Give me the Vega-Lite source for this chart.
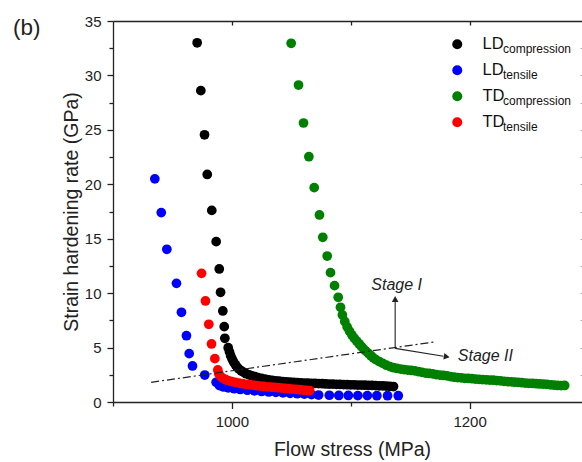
{
  "$schema": "https://vega.github.io/schema/vega-lite/v6.json",
  "width": 469,
  "height": 381,
  "autosize": {"type": "none"},
  "padding": {"left": 113, "top": 21, "right": 0, "bottom": 60},
  "background": "white",
  "title": {"text": "(b)", "anchor": "start", "frame": "group", "orient": "top", "dx": -100, "dy": 47, "baseline": "alphabetic", "fontSize": 22.5, "font": "Liberation Sans", "fontWeight": "normal", "color": "#222", "offset": 4},
  "config": {"view": {"stroke": null}, "font": "Liberation Sans"},
  "datasets": {
    "pts": [
      {"s": "LD compression", "x": 970.8, "y": 33.0},
      {"s": "LD compression", "x": 973.9, "y": 28.6},
      {"s": "LD compression", "x": 977.0, "y": 24.55},
      {"s": "LD compression", "x": 979.3, "y": 20.9},
      {"s": "LD compression", "x": 983.1, "y": 17.6},
      {"s": "LD compression", "x": 986.8, "y": 14.73},
      {"s": "LD compression", "x": 989.4, "y": 12.22},
      {"s": "LD compression", "x": 990.5, "y": 10.08},
      {"s": "LD compression", "x": 992.4, "y": 8.36},
      {"s": "LD compression", "x": 993.6, "y": 6.92},
      {"s": "LD compression", "x": 994.1, "y": 5.85},
      {"s": "LD compression", "x": 996.9, "y": 4.99},
      {"s": "LD compression", "x": 998, "y": 4.6},
      {"s": "LD compression", "x": 999, "y": 4.25},
      {"s": "LD compression", "x": 1000.2, "y": 3.95},
      {"s": "LD compression", "x": 1001.5, "y": 3.68},
      {"s": "LD compression", "x": 1003, "y": 3.42},
      {"s": "LD compression", "x": 1004.5, "y": 3.2},
      {"s": "LD compression", "x": 1006, "y": 3.02},
      {"s": "LD compression", "x": 1008, "y": 2.85},
      {"s": "LD compression", "x": 1010, "y": 2.72},
      {"s": "LD compression", "x": 1012, "y": 2.6},
      {"s": "LD compression", "x": 1014.5, "y": 2.5},
      {"s": "LD compression", "x": 1017, "y": 2.4},
      {"s": "LD compression", "x": 1019.5, "y": 2.32},
      {"s": "LD compression", "x": 1022, "y": 2.24},
      {"s": "LD compression", "x": 1025, "y": 2.17},
      {"s": "LD compression", "x": 1028, "y": 2.1},
      {"s": "LD compression", "x": 1031, "y": 2.04},
      {"s": "LD compression", "x": 1034, "y": 1.99},
      {"s": "LD compression", "x": 1037, "y": 1.95},
      {"s": "LD compression", "x": 1040, "y": 1.91},
      {"s": "LD compression", "x": 1043, "y": 1.88},
      {"s": "LD compression", "x": 1046, "y": 1.85},
      {"s": "LD compression", "x": 1049, "y": 1.82},
      {"s": "LD compression", "x": 1052, "y": 1.8},
      {"s": "LD compression", "x": 1055, "y": 1.78},
      {"s": "LD compression", "x": 1058, "y": 1.76},
      {"s": "LD compression", "x": 1061, "y": 1.74},
      {"s": "LD compression", "x": 1064, "y": 1.73},
      {"s": "LD compression", "x": 1067, "y": 1.71},
      {"s": "LD compression", "x": 1070, "y": 1.7},
      {"s": "LD compression", "x": 1073, "y": 1.69},
      {"s": "LD compression", "x": 1076, "y": 1.68},
      {"s": "LD compression", "x": 1079, "y": 1.66},
      {"s": "LD compression", "x": 1082, "y": 1.65},
      {"s": "LD compression", "x": 1085, "y": 1.64},
      {"s": "LD compression", "x": 1088, "y": 1.63},
      {"s": "LD compression", "x": 1091, "y": 1.62},
      {"s": "LD compression", "x": 1094, "y": 1.6},
      {"s": "LD compression", "x": 1097, "y": 1.59},
      {"s": "LD compression", "x": 1100, "y": 1.58},
      {"s": "LD compression", "x": 1103, "y": 1.57},
      {"s": "LD compression", "x": 1106, "y": 1.56},
      {"s": "LD compression", "x": 1109, "y": 1.55},
      {"s": "LD compression", "x": 1112, "y": 1.54},
      {"s": "LD compression", "x": 1115, "y": 1.53},
      {"s": "LD compression", "x": 1118, "y": 1.52},
      {"s": "LD compression", "x": 1121, "y": 1.51},
      {"s": "LD compression", "x": 1124, "y": 1.49},
      {"s": "LD compression", "x": 1127, "y": 1.48},
      {"s": "LD compression", "x": 1130, "y": 1.46},
      {"s": "LD compression", "x": 1133, "y": 1.44},
      {"s": "LD compression", "x": 1136, "y": 1.42},
      {"s": "LD tensile", "x": 935.2, "y": 20.5},
      {"s": "LD tensile", "x": 940.6, "y": 17.4},
      {"s": "LD tensile", "x": 945.3, "y": 14.03},
      {"s": "LD tensile", "x": 953.4, "y": 10.9},
      {"s": "LD tensile", "x": 957.6, "y": 8.24},
      {"s": "LD tensile", "x": 961.8, "y": 6.09},
      {"s": "LD tensile", "x": 964.1, "y": 4.44},
      {"s": "LD tensile", "x": 966.9, "y": 3.31},
      {"s": "LD tensile", "x": 977.2, "y": 2.48},
      {"s": "LD tensile", "x": 986.8, "y": 1.81},
      {"s": "LD tensile", "x": 989.6, "y": 1.5},
      {"s": "LD tensile", "x": 993, "y": 1.38},
      {"s": "LD tensile", "x": 997, "y": 1.3},
      {"s": "LD tensile", "x": 1002, "y": 1.22},
      {"s": "LD tensile", "x": 1007, "y": 1.15},
      {"s": "LD tensile", "x": 1013, "y": 1.08},
      {"s": "LD tensile", "x": 1019, "y": 1.02},
      {"s": "LD tensile", "x": 1025, "y": 0.97},
      {"s": "LD tensile", "x": 1031, "y": 0.92},
      {"s": "LD tensile", "x": 1037, "y": 0.88},
      {"s": "LD tensile", "x": 1043, "y": 0.84},
      {"s": "LD tensile", "x": 1049, "y": 0.8},
      {"s": "LD tensile", "x": 1055, "y": 0.76},
      {"s": "LD tensile", "x": 1061, "y": 0.72},
      {"s": "LD tensile", "x": 1067, "y": 0.68},
      {"s": "LD tensile", "x": 1073, "y": 0.64},
      {"s": "LD tensile", "x": 1082, "y": 0.62},
      {"s": "LD tensile", "x": 1090, "y": 0.6},
      {"s": "LD tensile", "x": 1098, "y": 0.6},
      {"s": "LD tensile", "x": 1106, "y": 0.59},
      {"s": "LD tensile", "x": 1114, "y": 0.59},
      {"s": "LD tensile", "x": 1122, "y": 0.58},
      {"s": "LD tensile", "x": 1131, "y": 0.58},
      {"s": "LD tensile", "x": 1140, "y": 0.58},
      {"s": "TD compression", "x": 1049.9, "y": 32.95},
      {"s": "TD compression", "x": 1056.1, "y": 29.12},
      {"s": "TD compression", "x": 1060.3, "y": 25.63},
      {"s": "TD compression", "x": 1064.8, "y": 22.53},
      {"s": "TD compression", "x": 1069.3, "y": 19.69},
      {"s": "TD compression", "x": 1073.7, "y": 17.18},
      {"s": "TD compression", "x": 1076.5, "y": 15.13},
      {"s": "TD compression", "x": 1080.2, "y": 13.41},
      {"s": "TD compression", "x": 1083.0, "y": 11.88},
      {"s": "TD compression", "x": 1086.4, "y": 10.69},
      {"s": "TD compression", "x": 1089.5, "y": 9.62},
      {"s": "TD compression", "x": 1091.4, "y": 8.7},
      {"s": "TD compression", "x": 1093, "y": 8.0},
      {"s": "TD compression", "x": 1095, "y": 7.4},
      {"s": "TD compression", "x": 1097, "y": 6.9},
      {"s": "TD compression", "x": 1099, "y": 6.5},
      {"s": "TD compression", "x": 1101, "y": 6.15},
      {"s": "TD compression", "x": 1103, "y": 5.85},
      {"s": "TD compression", "x": 1105, "y": 5.6},
      {"s": "TD compression", "x": 1107, "y": 5.35},
      {"s": "TD compression", "x": 1109, "y": 5.1},
      {"s": "TD compression", "x": 1111, "y": 4.85},
      {"s": "TD compression", "x": 1113, "y": 4.65},
      {"s": "TD compression", "x": 1115, "y": 4.45},
      {"s": "TD compression", "x": 1117, "y": 4.25},
      {"s": "TD compression", "x": 1119, "y": 4.05},
      {"s": "TD compression", "x": 1121, "y": 3.9},
      {"s": "TD compression", "x": 1124, "y": 3.72},
      {"s": "TD compression", "x": 1127, "y": 3.55},
      {"s": "TD compression", "x": 1130, "y": 3.38},
      {"s": "TD compression", "x": 1133, "y": 3.25},
      {"s": "TD compression", "x": 1136, "y": 3.15},
      {"s": "TD compression", "x": 1139, "y": 3.08},
      {"s": "TD compression", "x": 1142, "y": 3.02},
      {"s": "TD compression", "x": 1145, "y": 2.97},
      {"s": "TD compression", "x": 1148, "y": 2.93},
      {"s": "TD compression", "x": 1151, "y": 2.9},
      {"s": "TD compression", "x": 1154, "y": 2.86},
      {"s": "TD compression", "x": 1157, "y": 2.8},
      {"s": "TD compression", "x": 1160, "y": 2.72},
      {"s": "TD compression", "x": 1163, "y": 2.66},
      {"s": "TD compression", "x": 1166, "y": 2.62},
      {"s": "TD compression", "x": 1169, "y": 2.58},
      {"s": "TD compression", "x": 1172, "y": 2.52},
      {"s": "TD compression", "x": 1175, "y": 2.48},
      {"s": "TD compression", "x": 1178, "y": 2.44},
      {"s": "TD compression", "x": 1181, "y": 2.4},
      {"s": "TD compression", "x": 1184, "y": 2.33},
      {"s": "TD compression", "x": 1187, "y": 2.28},
      {"s": "TD compression", "x": 1190, "y": 2.25},
      {"s": "TD compression", "x": 1193, "y": 2.22},
      {"s": "TD compression", "x": 1196, "y": 2.18},
      {"s": "TD compression", "x": 1199, "y": 2.16},
      {"s": "TD compression", "x": 1202, "y": 2.14},
      {"s": "TD compression", "x": 1205, "y": 2.1},
      {"s": "TD compression", "x": 1208, "y": 2.08},
      {"s": "TD compression", "x": 1211, "y": 2.06},
      {"s": "TD compression", "x": 1214, "y": 2.04},
      {"s": "TD compression", "x": 1217, "y": 2.02},
      {"s": "TD compression", "x": 1220, "y": 2.0},
      {"s": "TD compression", "x": 1223, "y": 1.96},
      {"s": "TD compression", "x": 1226, "y": 1.94},
      {"s": "TD compression", "x": 1229, "y": 1.9},
      {"s": "TD compression", "x": 1232, "y": 1.87},
      {"s": "TD compression", "x": 1235, "y": 1.85},
      {"s": "TD compression", "x": 1238, "y": 1.82},
      {"s": "TD compression", "x": 1241, "y": 1.8},
      {"s": "TD compression", "x": 1244, "y": 1.77},
      {"s": "TD compression", "x": 1247, "y": 1.74},
      {"s": "TD compression", "x": 1250, "y": 1.72},
      {"s": "TD compression", "x": 1253, "y": 1.7},
      {"s": "TD compression", "x": 1256, "y": 1.68},
      {"s": "TD compression", "x": 1259, "y": 1.66},
      {"s": "TD compression", "x": 1262, "y": 1.64},
      {"s": "TD compression", "x": 1265, "y": 1.62},
      {"s": "TD compression", "x": 1268, "y": 1.58},
      {"s": "TD compression", "x": 1271, "y": 1.55},
      {"s": "TD compression", "x": 1274, "y": 1.52},
      {"s": "TD compression", "x": 1277, "y": 1.5},
      {"s": "TD compression", "x": 1280, "y": 1.52},
      {"s": "TD tensile", "x": 974.5, "y": 11.82},
      {"s": "TD tensile", "x": 977.8, "y": 9.28},
      {"s": "TD tensile", "x": 980.6, "y": 7.14},
      {"s": "TD tensile", "x": 982.9, "y": 5.33},
      {"s": "TD tensile", "x": 985.7, "y": 3.98},
      {"s": "TD tensile", "x": 988.2, "y": 2.94},
      {"s": "TD tensile", "x": 989, "y": 2.6},
      {"s": "TD tensile", "x": 990.5, "y": 2.35},
      {"s": "TD tensile", "x": 992.5, "y": 2.18},
      {"s": "TD tensile", "x": 995, "y": 2.05},
      {"s": "TD tensile", "x": 997.5, "y": 1.95},
      {"s": "TD tensile", "x": 1000, "y": 1.87},
      {"s": "TD tensile", "x": 1003, "y": 1.8},
      {"s": "TD tensile", "x": 1006, "y": 1.74},
      {"s": "TD tensile", "x": 1009, "y": 1.68},
      {"s": "TD tensile", "x": 1012, "y": 1.63},
      {"s": "TD tensile", "x": 1015, "y": 1.58},
      {"s": "TD tensile", "x": 1018, "y": 1.54},
      {"s": "TD tensile", "x": 1021, "y": 1.5},
      {"s": "TD tensile", "x": 1024, "y": 1.46},
      {"s": "TD tensile", "x": 1027, "y": 1.43},
      {"s": "TD tensile", "x": 1030, "y": 1.4},
      {"s": "TD tensile", "x": 1033, "y": 1.37},
      {"s": "TD tensile", "x": 1036, "y": 1.34},
      {"s": "TD tensile", "x": 1039, "y": 1.31},
      {"s": "TD tensile", "x": 1042, "y": 1.28},
      {"s": "TD tensile", "x": 1045, "y": 1.25},
      {"s": "TD tensile", "x": 1048, "y": 1.22},
      {"s": "TD tensile", "x": 1051, "y": 1.19},
      {"s": "TD tensile", "x": 1054, "y": 1.16},
      {"s": "TD tensile", "x": 1057, "y": 1.13},
      {"s": "TD tensile", "x": 1060, "y": 1.1},
      {"s": "TD tensile", "x": 1063, "y": 1.07},
      {"s": "TD tensile", "x": 1065.5, "y": 1.05}
    ],
    "dash": [{"x": 932.1, "y": 1.81, "x2": 1171.9, "y2": 5.54}],
    "arrows": [
      {"x": 1137.4, "y": 4.93, "x2": 1137.4, "y2": 9.2},
      {"x": 1137.4, "y": 4.93, "x2": 1178.1, "y2": 4.21}
    ],
    "headUp": [{"x": 1137.4, "y": 9.46}],
    "headRight": [{"x": 1180.8, "y": 4.16}],
    "labels": [
      {"t": "Stage I", "x": 1117.3, "y": 10.75},
      {"t": "Stage II", "x": 1190.1, "y": 4.23}
    ]
  },
  "layer": [
    {
      "data": {"name": "pts"},
      "mark": {"type": "point", "filled": true, "size": 95, "opacity": 1, "strokeWidth": 0},
      "encoding": {
        "x": {"field": "x", "type": "quantitative", "scale": {"domain": [900, 1294.6], "nice": false, "zero": false},
          "axis": {"orient": "bottom", "values": [1000, 1200], "format": "d", "tickSize": 6.5, "tickWidth": 1.3, "tickColor": "#222", "domainColor": "#222", "domainWidth": 1.3, "labelFontSize": 15, "labelColor": "#222", "labelPadding": 6, "labelFont": "Liberation Sans", "grid": false,
            "title": "Flow stress (MPa)", "titleFontSize": 19.5, "titleFontWeight": "normal", "titleFont": "Liberation Sans", "titleColor": "#222", "titleX": 239, "titleY": 53, "titleBaseline": "alphabetic"}},
        "y": {"field": "y", "type": "quantitative", "scale": {"domain": [0, 35], "nice": false, "zero": true},
          "axis": {"orient": "left", "values": [0, 5, 10, 15, 20, 25, 30, 35], "format": "d", "tickSize": 6, "tickWidth": 1.3, "tickColor": "#222", "domainColor": "#222", "domainWidth": 1.3, "labelFontSize": 15, "labelColor": "#222", "labelPadding": 6, "labelFont": "Liberation Sans", "grid": false,
            "title": "Strain hardening rate (GPa)", "titleFontSize": 19.5, "titleFontWeight": "normal", "titleFont": "Liberation Sans", "titleColor": "#222", "titleX": -36, "titleY": 190.5, "titleBaseline": "alphabetic"}},
        "color": {"field": "s", "type": "nominal", "scale": {"range": ["#000000", "#0000ff", "#008000", "#ff0000"]},
          "legend": {"orient": "none", "legendX": 336, "legendY": 15, "title": null, "labelExpr": "split(datum.label, ' ')[0]", "labelFontSize": 16.5, "labelFont": "Liberation Sans", "labelColor": "#111", "symbolType": "circle", "symbolSize": 100, "symbolStrokeWidth": 0, "labelOffset": 17, "rowPadding": 9}}
      }
    },
    {
      "data": {"name": "pts"},
      "mark": {"type": "point", "filled": true, "size": 90, "opacity": 0},
      "encoding": {
        "x": {"field": "x", "type": "quantitative", "axis": {"orient": "bottom", "values": [900, 1100], "tickSize": 4, "tickWidth": 1.3, "tickColor": "#222", "labels": false, "domain": false, "title": null, "grid": false}},
        "y": {"field": "y", "type": "quantitative", "axis": {"orient": "left", "values": [2.5, 7.5, 12.5, 17.5, 22.5, 27.5, 32.5], "tickSize": 4, "tickWidth": 1.3, "tickColor": "#222", "labels": false, "domain": false, "title": null, "grid": false}},
        "shape": {"field": "s", "type": "nominal", "scale": {"domain": ["LD compression", "LD tensile", "TD compression", "TD tensile"], "range": ["circle", "circle", "circle", "circle"]},
          "legend": {"orient": "none", "legendX": 361, "legendY": 22, "title": null, "labelExpr": "split(datum.label, ' ')[1]", "labelFontSize": 12, "labelFont": "Liberation Sans", "labelColor": "#111", "symbolSize": 100, "symbolOpacity": 0, "symbolStrokeWidth": 0, "labelOffset": 17, "rowPadding": 14}}
      }
    },
    {
      "data": {"name": "dash"},
      "mark": {"type": "rule", "color": "#222", "strokeWidth": 1.2, "strokeDash": [8, 3, 2, 3]},
      "encoding": {
        "x": {"field": "x", "type": "quantitative", "axis": {"orient": "top", "values": [1000, 1100, 1200], "tickSize": -4, "tickWidth": 1.3, "tickColor": "#222", "domainColor": "#222", "domainWidth": 1.3, "labels": false, "title": null, "grid": false}},
        "y": {"field": "y", "type": "quantitative", "axis": {"orient": "right", "values": [2.5, 5, 7.5, 10, 12.5, 15, 17.5, 20, 22.5, 25, 27.5, 30, 32.5], "tickSize": -2, "tickWidth": 1, "tickColor": "#aaa", "labels": false, "domain": false, "title": null, "grid": false}},
        "x2": {"field": "x2"},
        "y2": {"field": "y2"}
      }
    },
    {
      "data": {"name": "arrows"},
      "mark": {"type": "rule", "color": "#222", "strokeWidth": 1.1},
      "encoding": {
        "x": {"field": "x", "type": "quantitative", "axis": null},
        "y": {"field": "y", "type": "quantitative", "axis": null},
        "x2": {"field": "x2"},
        "y2": {"field": "y2"}
      }
    },
    {
      "data": {"name": "headUp"},
      "mark": {"type": "point", "shape": "triangle-up", "filled": true, "color": "#222", "size": 45, "opacity": 1},
      "encoding": {
        "x": {"field": "x", "type": "quantitative", "axis": null},
        "y": {"field": "y", "type": "quantitative", "axis": null}
      }
    },
    {
      "data": {"name": "headRight"},
      "mark": {"type": "point", "shape": "triangle-right", "filled": true, "color": "#222", "size": 45, "opacity": 1, "angle": 9.3},
      "encoding": {
        "x": {"field": "x", "type": "quantitative", "axis": null},
        "y": {"field": "y", "type": "quantitative", "axis": null}
      }
    },
    {
      "data": {"name": "labels"},
      "mark": {"type": "text", "align": "left", "baseline": "middle", "fontSize": 16, "fontStyle": "italic", "font": "Liberation Sans", "color": "#222"},
      "encoding": {
        "x": {"field": "x", "type": "quantitative", "axis": null},
        "y": {"field": "y", "type": "quantitative", "axis": null},
        "text": {"field": "t"}
      }
    }
  ],
  "resolve": {"axis": {"x": "independent", "y": "independent"}}
}
